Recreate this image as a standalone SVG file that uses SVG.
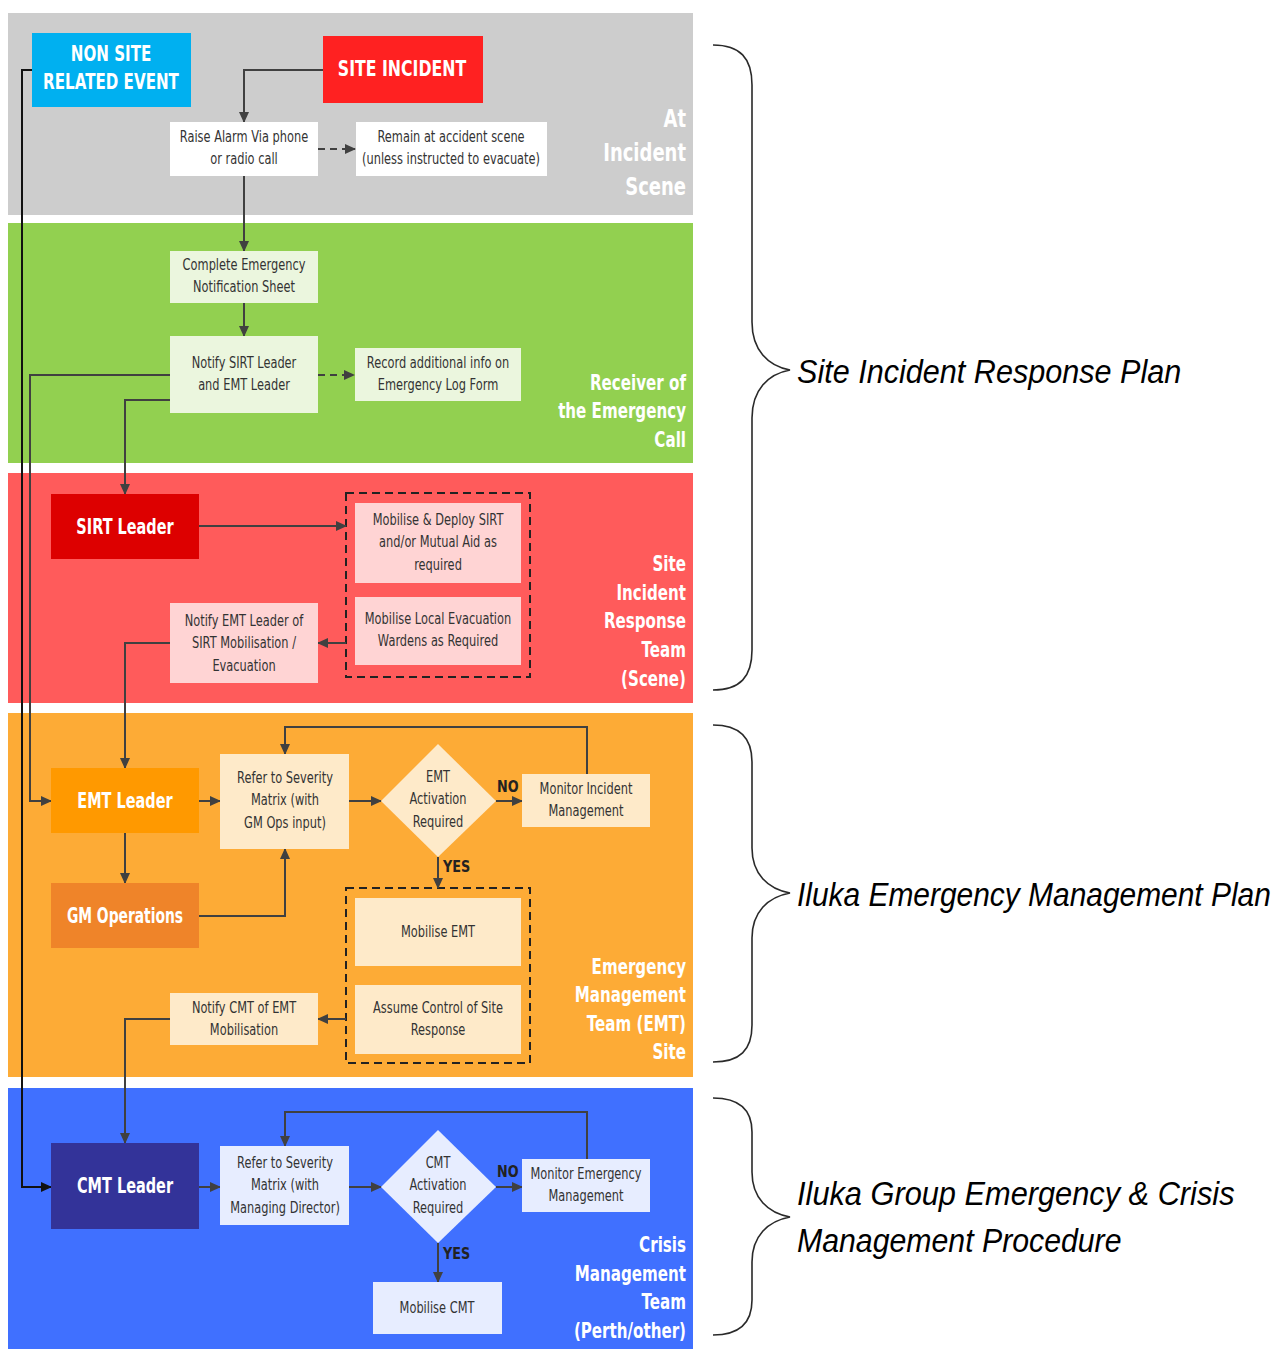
<svg xmlns="http://www.w3.org/2000/svg" width="1283" height="1349" viewBox="0 0 1283 1349">
  <defs>
    <marker id="arr" markerUnits="userSpaceOnUse" markerWidth="11" markerHeight="10" refX="10" refY="5" orient="auto">
      <path d="M0,0 L11,5 L0,10 z" fill="#404040"/>
    </marker>
    <marker id="arrK" markerUnits="userSpaceOnUse" markerWidth="11" markerHeight="10" refX="10" refY="5" orient="auto">
      <path d="M0,0 L11,5 L0,10 z" fill="#111"/>
    </marker>
    <style>
      .band { stroke: none; }
      .box { stroke: none; }
      .t { font-family: "DejaVu Sans", "Liberation Sans", sans-serif; font-size: 15px; fill: #333; text-anchor: middle; }
      .tb { font-family: "DejaVu Sans", "Liberation Sans", sans-serif; font-size: 21px; font-weight: bold; fill: #fff; text-anchor: middle; }
      .lane { font-family: "DejaVu Sans", "Liberation Sans", sans-serif; font-size: 21px; font-weight: bold; fill: #fff; text-anchor: end; }
      .lane.big { font-size: 25px; }
      .yn { font-family: "DejaVu Sans", "Liberation Sans", sans-serif; font-size: 16px; font-weight: bold; fill: #222; }
      .plan { font-family: "Liberation Sans", Arial, sans-serif; font-size: 34px; font-style: italic; fill: #000; }
      .conn { fill: none; stroke: #404040; stroke-width: 2; marker-end: url(#arr); }
      .conn.dash { stroke-dasharray: 7 5; }
      .conn.dark { stroke: #111; marker-end: url(#arrK); }
      .grp { fill: none; stroke: #222; stroke-width: 2; stroke-dasharray: 8 5; }
      .brace { fill: none; stroke: #2a2a2a; stroke-width: 1.6; }
    </style>
  </defs>

  <rect width="1283" height="1349" fill="#fff"/>

  <!-- swim lanes -->
  <g id="lanes">
    <rect class="band" x="8" y="13" width="685" height="202" fill="#cdcdcd"/>
    <rect class="band" x="8" y="223" width="685" height="240" fill="#92d050"/>
    <rect class="band" x="8" y="473" width="685" height="230" fill="#ff5b5b"/>
    <rect class="band" x="8" y="713" width="685" height="364" fill="#fdab36"/>
    <rect class="band" x="8" y="1088" width="685" height="261" fill="#4070ff"/>

    <text class="lane big" transform="translate(686,127) scale(0.72,1)"><tspan x="0">At</tspan><tspan x="0" dy="34">Incident</tspan><tspan x="0" dy="34">Scene</tspan></text>
    <text class="lane" transform="translate(686,390) scale(0.72,1)"><tspan x="0">Receiver of</tspan><tspan x="0" dy="28.5">the Emergency</tspan><tspan x="0" dy="28.5">Call</tspan></text>
    <text class="lane" transform="translate(686,571) scale(0.72,1)"><tspan x="0">Site</tspan><tspan x="0" dy="28.7">Incident</tspan><tspan x="0" dy="28.7">Response</tspan><tspan x="0" dy="28.7">Team</tspan><tspan x="0" dy="28.7">(Scene)</tspan></text>
    <text class="lane" transform="translate(686,974) scale(0.72,1)"><tspan x="0">Emergency</tspan><tspan x="0" dy="28.5">Management</tspan><tspan x="0" dy="28.5">Team (EMT)</tspan><tspan x="0" dy="28.5">Site</tspan></text>
    <text class="lane" transform="translate(686,1252) scale(0.72,1)"><tspan x="0">Crisis</tspan><tspan x="0" dy="28.7">Management</tspan><tspan x="0" dy="28.7">Team</tspan><tspan x="0" dy="28.7">(Perth/other)</tspan></text>
  </g>

  <!-- dashed groupings -->
  <g id="groups">
    <rect class="grp" x="346" y="493" width="184" height="184"/>
    <rect class="grp" x="346" y="888" width="184" height="175"/>
  </g>

  <!-- connectors -->
  <g id="connectors">
    <path class="conn dark" d="M32,70 H22 V1187 H51"/>
    <path class="conn" d="M323,70 H244 V122"/>
    <path class="conn dash" d="M318,149 H355"/>
    <path class="conn" d="M244,176 V251"/>
    <path class="conn" d="M244,303 V336"/>
    <path class="conn dash" d="M318,375 H354"/>
    <path class="conn" d="M170,375 H30 V801 H51"/>
    <path class="conn" d="M170,400 H125 V494"/>
    <path class="conn" d="M199,526 H346"/>
    <path class="conn" d="M346,643 H318"/>
    <path class="conn" d="M170,643 H125 V768"/>
    <path class="conn" d="M199,801 H220"/>
    <path class="conn" d="M125,833 V883"/>
    <path class="conn" d="M199,916 H285 V849"/>
    <path class="conn" d="M349,801 H381"/>
    <path class="conn" d="M496,801 H522"/>
    <path class="conn" d="M587,774 V727 H285 V754"/>
    <path class="conn" d="M438,857 V888"/>
    <path class="conn" d="M346,1019 H318"/>
    <path class="conn" d="M170,1019 H125 V1143"/>
    <path class="conn" d="M199,1187 H220"/>
    <path class="conn" d="M349,1187 H381"/>
    <path class="conn" d="M496,1187 H522"/>
    <path class="conn" d="M587,1159 V1112 H285 V1146"/>
    <path class="conn" d="M438,1243 V1282"/>
    <text class="yn" transform="translate(497,792) scale(0.8,1)">NO</text>
    <text class="yn" transform="translate(443,872) scale(0.8,1)">YES</text>
    <text class="yn" transform="translate(497,1177) scale(0.8,1)">NO</text>
    <text class="yn" transform="translate(443,1259) scale(0.8,1)">YES</text>
  </g>

  <!-- nodes -->
  <g id="non-site-event">
    <rect class="box" x="32" y="33" width="159" height="74" fill="#00b0f0"/>
    <text class="tb" transform="translate(111,61) scale(0.72,1)"><tspan x="0">NON SITE</tspan><tspan x="0" dy="28">RELATED EVENT</tspan></text>
  </g>
  <g id="site-incident">
    <rect class="box" x="323" y="36" width="160" height="67" fill="#ff2121"/>
    <text class="tb" transform="translate(402,76) scale(0.75,1)">SITE INCIDENT</text>
  </g>
  <g id="raise-alarm">
    <rect class="box" x="170" y="122" width="148" height="54" fill="#fff"/>
    <text class="t" transform="translate(244,141.5) scale(0.76,1)"><tspan x="0">Raise Alarm Via phone</tspan><tspan x="0" dy="23">or radio call</tspan></text>
  </g>
  <g id="remain-at-scene">
    <rect class="box" x="356" y="122" width="191" height="54" fill="#fff"/>
    <text class="t" transform="translate(451,141.5) scale(0.76,1)"><tspan x="0">Remain at accident scene</tspan><tspan x="0" dy="23">(unless instructed to evacuate)</tspan></text>
  </g>
  <g id="complete-notification">
    <rect class="box" x="170" y="251" width="148" height="52" fill="#ebf6de"/>
    <text class="t" transform="translate(244,269.5) scale(0.76,1)"><tspan x="0">Complete Emergency</tspan><tspan x="0" dy="23">Notification Sheet</tspan></text>
  </g>
  <g id="notify-sirt-emt">
    <rect class="box" x="170" y="336" width="148" height="77" fill="#ebf6de"/>
    <text class="t" transform="translate(244,367.5) scale(0.76,1)"><tspan x="0">Notify SIRT Leader</tspan><tspan x="0" dy="23">and EMT Leader</tspan></text>
  </g>
  <g id="record-log">
    <rect class="box" x="355" y="348" width="166" height="53" fill="#ebf6de"/>
    <text class="t" transform="translate(438,367.5) scale(0.76,1)"><tspan x="0">Record additional info on</tspan><tspan x="0" dy="23">Emergency Log Form</tspan></text>
  </g>
  <g id="sirt-leader">
    <rect class="box" x="51" y="494" width="148" height="65" fill="#dd0000"/>
    <text class="tb" transform="translate(125,534) scale(0.69,1)">SIRT Leader</text>
  </g>
  <g id="mobilise-sirt">
    <rect class="box" x="355" y="503" width="166" height="80" fill="#ffd4d4"/>
    <text class="t" transform="translate(438,524.5) scale(0.76,1)"><tspan x="0">Mobilise &amp; Deploy SIRT</tspan><tspan x="0" dy="23">and/or Mutual Aid as</tspan><tspan x="0" dy="23">required</tspan></text>
  </g>
  <g id="mobilise-wardens">
    <rect class="box" x="355" y="597" width="166" height="68" fill="#ffd4d4"/>
    <text class="t" transform="translate(438,623.5) scale(0.76,1)"><tspan x="0">Mobilise Local Evacuation</tspan><tspan x="0" dy="23">Wardens as Required</tspan></text>
  </g>
  <g id="notify-emt-leader">
    <rect class="box" x="170" y="603" width="148" height="80" fill="#ffd4d4"/>
    <text class="t" transform="translate(244,625.5) scale(0.76,1)"><tspan x="0">Notify EMT Leader of</tspan><tspan x="0" dy="23">SIRT Mobilisation /</tspan><tspan x="0" dy="23">Evacuation</tspan></text>
  </g>
  <g id="emt-leader">
    <rect class="box" x="51" y="768" width="148" height="65" fill="#ff9900"/>
    <text class="tb" transform="translate(125,808) scale(0.69,1)">EMT Leader</text>
  </g>
  <g id="gm-operations">
    <rect class="box" x="51" y="883" width="148" height="65" fill="#ef8429"/>
    <text class="tb" transform="translate(125,923) scale(0.66,1)">GM Operations</text>
  </g>
  <g id="severity-emt">
    <rect class="box" x="220" y="754" width="129" height="95" fill="#feeac9"/>
    <text class="t" transform="translate(285,782.5) scale(0.76,1)"><tspan x="0">Refer to Severity</tspan><tspan x="0" dy="23">Matrix (with</tspan><tspan x="0" dy="23">GM Ops input)</tspan></text>
  </g>
  <g id="emt-activation">
    <path d="M438,744 L496,801 L438,857 L381,801 z" fill="#feeac9"/>
    <text class="t" transform="translate(438,781.5) scale(0.76,1)"><tspan x="0">EMT</tspan><tspan x="0" dy="23">Activation</tspan><tspan x="0" dy="23">Required</tspan></text>
  </g>
  <g id="monitor-incident">
    <rect class="box" x="522" y="774" width="128" height="53" fill="#feeac9"/>
    <text class="t" transform="translate(586,793.5) scale(0.76,1)"><tspan x="0">Monitor Incident</tspan><tspan x="0" dy="23">Management</tspan></text>
  </g>
  <g id="mobilise-emt">
    <rect class="box" x="355" y="898" width="166" height="68" fill="#feeac9"/>
    <text class="t" transform="translate(438,936.5) scale(0.76,1)">Mobilise EMT</text>
  </g>
  <g id="assume-control">
    <rect class="box" x="355" y="985" width="166" height="69" fill="#feeac9"/>
    <text class="t" transform="translate(438,1012.5) scale(0.76,1)"><tspan x="0">Assume Control of Site</tspan><tspan x="0" dy="23">Response</tspan></text>
  </g>
  <g id="notify-cmt">
    <rect class="box" x="170" y="993" width="148" height="52" fill="#feeac9"/>
    <text class="t" transform="translate(244,1012.5) scale(0.76,1)"><tspan x="0">Notify CMT of EMT</tspan><tspan x="0" dy="23">Mobilisation</tspan></text>
  </g>
  <g id="cmt-leader">
    <rect class="box" x="51" y="1143" width="148" height="86" fill="#333399"/>
    <text class="tb" transform="translate(125,1193) scale(0.69,1)">CMT Leader</text>
  </g>
  <g id="severity-cmt">
    <rect class="box" x="220" y="1146" width="129" height="79" fill="#e7edff"/>
    <text class="t" transform="translate(285,1167.5) scale(0.76,1)"><tspan x="0">Refer to Severity</tspan><tspan x="0" dy="23">Matrix (with</tspan><tspan x="0" dy="23">Managing Director)</tspan></text>
  </g>
  <g id="cmt-activation">
    <path d="M438,1130 L496,1187 L438,1243 L381,1187 z" fill="#e7edff"/>
    <text class="t" transform="translate(438,1167.5) scale(0.76,1)"><tspan x="0">CMT</tspan><tspan x="0" dy="23">Activation</tspan><tspan x="0" dy="23">Required</tspan></text>
  </g>
  <g id="monitor-emergency">
    <rect class="box" x="522" y="1159" width="128" height="53" fill="#e7edff"/>
    <text class="t" transform="translate(586,1178.5) scale(0.76,1)"><tspan x="0">Monitor Emergency</tspan><tspan x="0" dy="23">Management</tspan></text>
  </g>
  <g id="mobilise-cmt">
    <rect class="box" x="373" y="1282" width="129" height="52" fill="#e7edff"/>
    <text class="t" transform="translate(437,1312.5) scale(0.76,1)">Mobilise CMT</text>
  </g>

  <!-- plan braces -->
  <g id="brace-sirp">
    <path class="brace" d="M713,45 C740,45 752,58 752,85 L752,322 C752,350 768,366 790,370 C768,374 752,390 752,418 L752,650 C752,677 740,690 713,690"/>
    <text class="plan" transform="translate(797,383) scale(0.9,1)">Site Incident Response Plan</text>
  </g>
  <g id="brace-iemp">
    <path class="brace" d="M713,725 C740,725 752,738 752,762 L752,848 C752,874 768,889 790,893 C768,897 752,912 752,938 L752,1025 C752,1050 740,1062 713,1062"/>
    <text class="plan" transform="translate(797,906) scale(0.88,1)">Iluka Emergency Management Plan</text>
  </g>
  <g id="brace-gecmp">
    <path class="brace" d="M713,1098 C740,1098 752,1110 752,1132 L752,1172 C752,1198 768,1213 790,1217 C768,1221 752,1236 752,1262 L752,1300 C752,1323 740,1335 713,1335"/>
    <text class="plan" transform="translate(797,1205) scale(0.905,1)">Iluka Group Emergency &amp; Crisis</text>
    <text class="plan" transform="translate(797,1252) scale(0.89,1)">Management Procedure</text>
  </g>
</svg>
